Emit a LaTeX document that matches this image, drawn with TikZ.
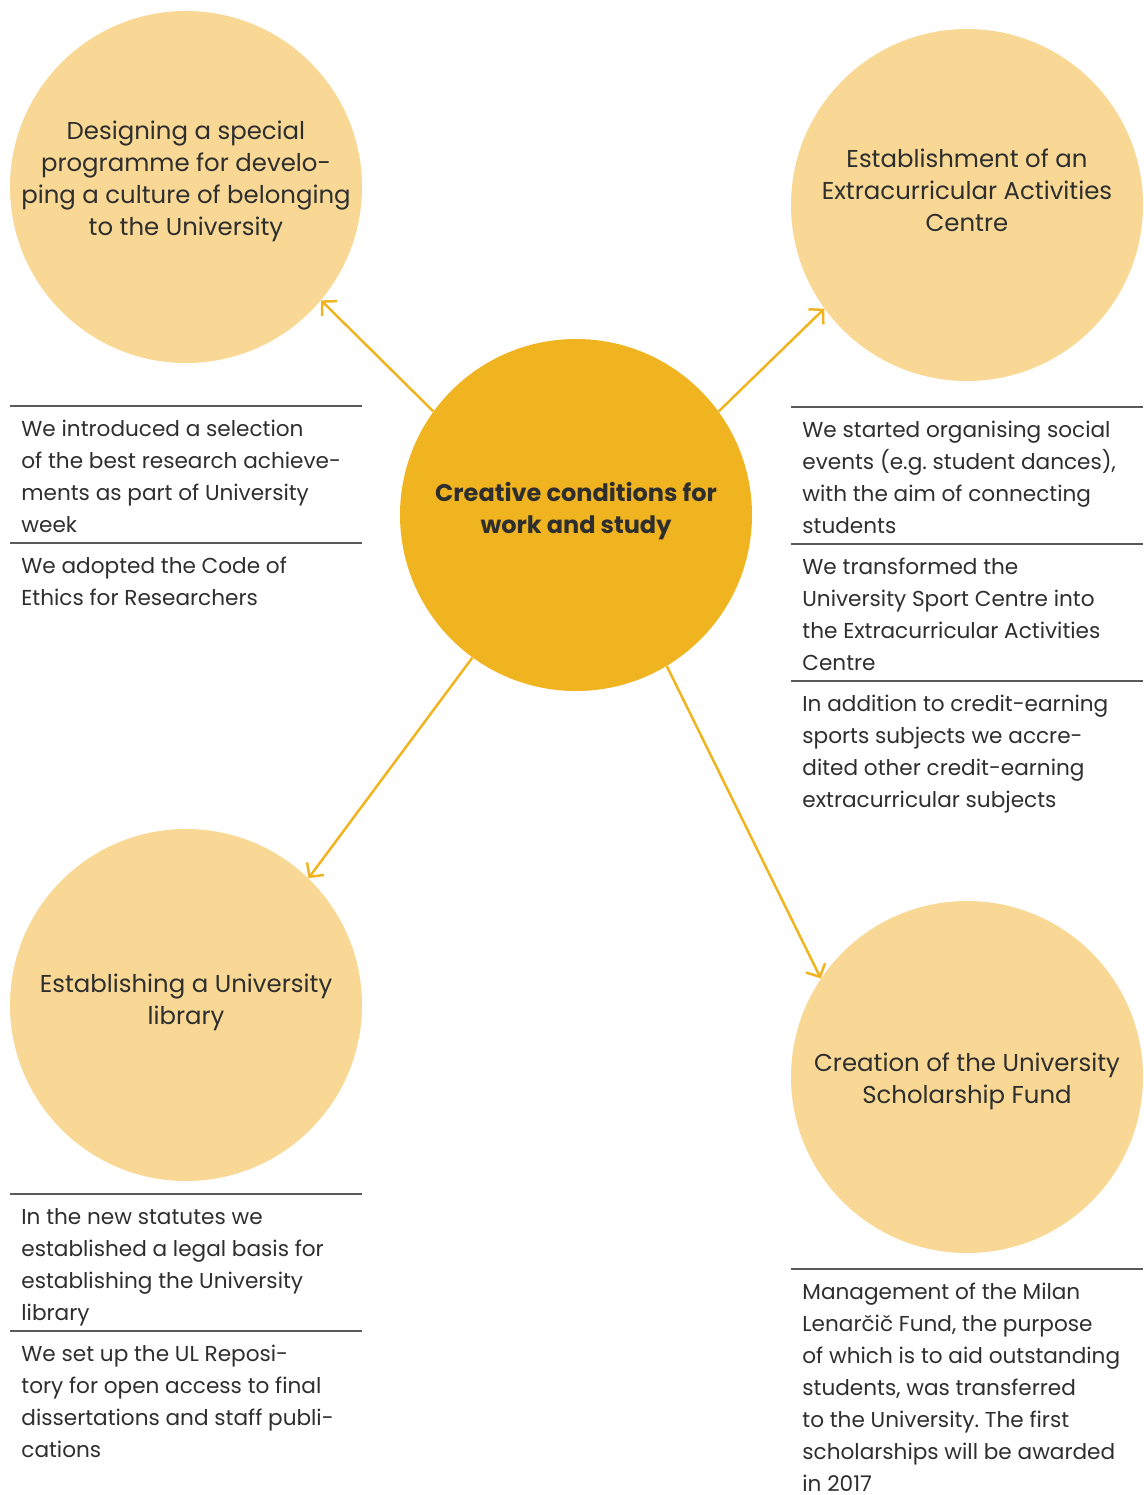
\documentclass[tikz,border=0pt]{standalone}
\usepackage{fontspec}
\setmainfont{Poppins}
\usetikzlibrary{arrows.meta}
\definecolor{light}{HTML}{F8D894}
\definecolor{dark}{HTML}{F0B420}
\definecolor{txt}{HTML}{2E2E2E}
\definecolor{rulec}{HTML}{5A5A5A}
\frenchspacing
\begin{document}
\begin{tikzpicture}[x=0.5pt,y=-0.5pt,
  bubble/.style={circle, fill=light, minimum size=176pt, inner sep=0pt, draw=none},
  hub/.style={bubble, fill=dark},
  ctext/.style={align=center, inner sep=0pt, text=txt, font=\fontsize{12.2}{16}\selectfont},
  btext/.style={align=left, anchor=north west, inner sep=0pt, text=txt, font=\fontsize{10.8}{16}\selectfont},
  link/.style={draw=dark, line width=1.25pt, -{Straight Barb[length=5pt,width=10.6pt]}},
  sep/.style={draw=rulec, line width=0.7pt}]
\useasboundingbox (0,0) rectangle (1144,1495);

% circles
\node[bubble] (tl) at (186,187) {};
\node[bubble] (tr) at (967,205) {};
\node[hub]    (hub) at (576,515) {};
\node[bubble] (bl) at (186,1005) {};
\node[bubble] (br) at (967,1077) {};

% circle texts
\node[ctext] (tlt) at (186,181) {Designing a special\\programme for develo-\\ping a culture of belonging\\to the University};
\node[ctext] (trt) at (967,190) {Establishment of an\\Extracurricular Activities\\Centre};
\node[ctext, font=\fontsize{12}{16}\selectfont\bfseries] (hubt) at (576,511) {Creative conditions for\\work and study};
\node[ctext] (blt) at (186,1002) {Establishing a University\\library};
\node[ctext] (brt) at (967,1081) {Creation of the University\\Scholarship Fund};

% connectors
\draw[link] (hub.144.2) -- (tl.-40.9);
\draw[link] (hub.36.1) -- (tr.216.6);
\draw[link] (hub.234.4) -- (bl.46.4);
\draw[link] (hub.-59.3) -- (br.146);

% rules
\draw[sep] (10,406) -- (362,406);
\draw[sep] (10,543) -- (362,543);
\draw[sep] (10,1194) -- (362,1194);
\draw[sep] (10,1331) -- (362,1331);
\draw[sep] (791,407) -- (1143,407);
\draw[sep] (791,544) -- (1143,544);
\draw[sep] (791,681) -- (1143,681);
\draw[sep] (791,1269) -- (1143,1269);

% text blocks
\node[btext] (l1) at (21,414) {\strut We introduced a selection\\of the best research achieve-\\ments as part of University\\week};
\node[btext] (l2) at (21,551) {\strut We adopted the Code of\\Ethics for Researchers};
\node[btext] (l3) at (21,1202) {\strut In the new statutes we\\established a legal basis for\\establishing the University\\library};
\node[btext] (l4) at (21,1339) {\strut We set up the UL Reposi-\\tory for open access to final\\dissertations and staff publi-\\cations};
\node[btext] (r1) at (802,415) {\strut We started organising social\\events (e.g. student dances),\\with the aim of connecting\\students};
\node[btext] (r2) at (802,552) {\strut We transformed the\\University Sport Centre into\\the Extracurricular Activities\\Centre};
\node[btext] (r3) at (802,689) {\strut In addition to credit-earning\\sports subjects we accre-\\dited other credit-earning\\extracurricular subjects};
\node[btext] (r4) at (802,1277) {\strut Management of the Milan\\Lenarčič Fund, the purpose\\of which is to aid outstanding\\students, was transferred\\to the University. The first\\scholarships will be awarded\\in 2017};
\end{tikzpicture}
\end{document}
